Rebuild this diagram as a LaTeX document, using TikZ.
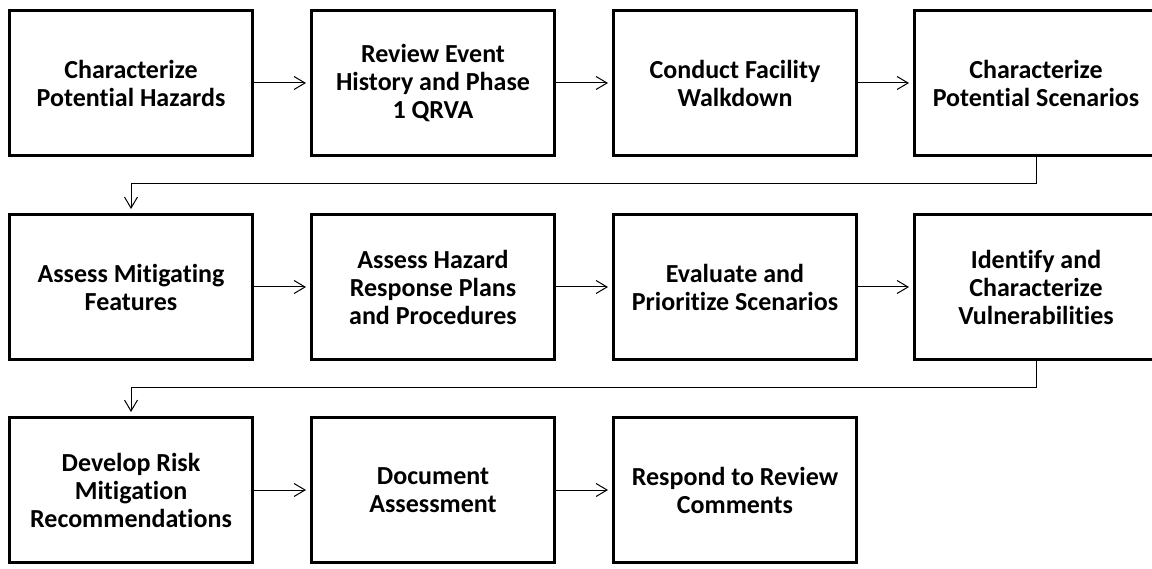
\documentclass[tikz,border=0pt]{standalone}
\usepackage{fontspec}
\setmainfont{Carlito}[Ligatures=NoCommon]
\usetikzlibrary{arrows.meta}
\begin{document}
\begin{tikzpicture}[x=1pt,y=-1pt,
  stepbox/.style={draw, line width=3pt, minimum width=243pt, minimum height=145pt,
    inner sep=2pt, align=center, font=\fontsize{26}{28}\selectfont\bfseries},
  flow/.style={draw, line width=1pt,
    -{Straight Barb[length=11pt,width=13pt,line width=1pt]}, shorten >=4pt}]
\useasboundingbox (0,0) rectangle (1152,569);
% row 1
\node[stepbox] (a) at (131,83) {Characterize\\Potential Hazards};
\node[stepbox] (b) at (433,83) {Review Event\\History and Phase\\1 QRVA};
\node[stepbox] (c) at (735,83) {Conduct Facility\\Walkdown};
\node[stepbox] (d) at (1036,83) {Characterize\\Potential Scenarios};
% row 2
\node[stepbox] (e) at (131,287) {Assess Mitigating\\Features};
\node[stepbox] (f) at (433,287) {Assess Hazard\\Response Plans\\and Procedures};
\node[stepbox] (g) at (735,287) {Evaluate and\\Prioritize Scenarios};
\node[stepbox] (h) at (1036,287) {Identify and\\Characterize\\Vulnerabilities};
% row 3
\node[stepbox] (i) at (131,490) {Develop Risk\\Mitigation\\Recommendations};
\node[stepbox] (j) at (433,490) {Document\\Assessment};
\node[stepbox] (k) at (735,490) {Respond to Review\\Comments};
% connectors within rows
\draw[flow] (a) -- (b);
\draw[flow] (b) -- (c);
\draw[flow] (c) -- (d);
\draw[flow] (e) -- (f);
\draw[flow] (f) -- (g);
\draw[flow] (g) -- (h);
\draw[flow] (i) -- (j);
\draw[flow] (j) -- (k);
% connectors between rows
\coordinate (r1) at (1036,184);
\coordinate (r2) at (1036,388);
\draw[flow] (d.south) -- (r1) -| (e.north);
\draw[flow] (h.south) -- (r2) -| (i.north);
\end{tikzpicture}
\end{document}
